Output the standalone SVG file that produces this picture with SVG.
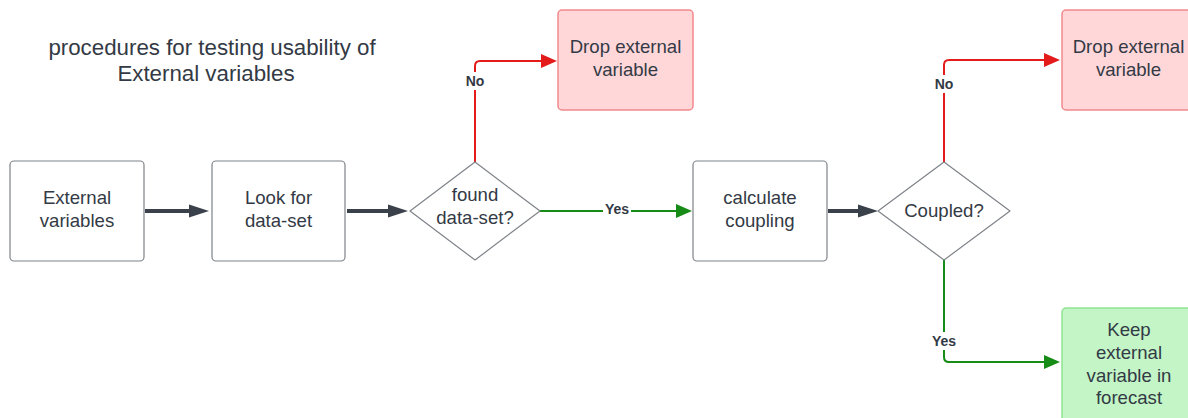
<svg xmlns="http://www.w3.org/2000/svg" width="1188" height="418" viewBox="0 0 1188 418">
<defs>
<style>
.t{font-family:"Liberation Sans",Arial,sans-serif;fill:#333a45;text-anchor:middle}
.n{font-size:18.6px}
.l{font-size:14px;font-weight:bold}
.box{fill:#ffffff;stroke:#7f8389;stroke-width:1.2}
.red{fill:#ffd7d9;stroke:#f2898c;stroke-width:1.5}
.grn{fill:#c3f5c7;stroke:#8ee592;stroke-width:1.5}
.dk{fill:none;stroke:#3b414b;stroke-width:4}
.rl{fill:none;stroke:#e31b1b;stroke-width:2}
.gl{fill:none;stroke:#168b16;stroke-width:2}
</style>
<marker id="ad" markerWidth="20" markerHeight="16" refX="0" refY="0" markerUnits="userSpaceOnUse" orient="auto" style="overflow:visible"><path d="M-1,-6.5 L19,0 L-1,6.5 Z" fill="#3b414b"/></marker>
<marker id="ar" markerWidth="16" markerHeight="16" refX="0" refY="0" markerUnits="userSpaceOnUse" orient="auto" style="overflow:visible"><path d="M-2,-7 L14,0 L-2,7 Z" fill="#e31b1b"/></marker>
<marker id="ag" markerWidth="16" markerHeight="16" refX="0" refY="0" markerUnits="userSpaceOnUse" orient="auto" style="overflow:visible"><path d="M-2,-7 L14,0 L-2,7 Z" fill="#168b16"/></marker>
</defs>
<rect width="1188" height="418" fill="#ffffff"/>
<g id="title">
<text class="t" x="212" y="55" style="font-size:22.3px">procedures for testing usability of</text>
<text class="t" x="206" y="81" style="font-size:22.3px">External variables</text>
</g>
<g id="connectors">
<path class="dk" d="M145,211 H190" marker-end="url(#ad)"/>
<path class="dk" d="M347,211 H389" marker-end="url(#ad)"/>
<path class="dk" d="M828,211 H859" marker-end="url(#ad)"/>
<path class="rl" d="M475,162 V66 Q475,61 480,61 H543" marker-end="url(#ar)"/>
<path class="gl" d="M540,211 H678" marker-end="url(#ag)"/>
<path class="rl" d="M944,162 V65 Q944,60 949,60 H1046" marker-end="url(#ar)"/>
<path class="gl" d="M944,260 V357 Q944,362 949,362 H1046" marker-end="url(#ag)"/>
<rect x="462" y="72" width="26" height="18" fill="#ffffff"/>
<text class="t l" x="475" y="86">No</text>
<rect x="603" y="203" width="28" height="14" fill="#ffffff"/>
<text class="t l" x="617" y="214">Yes</text>
<rect x="931" y="75" width="26" height="18" fill="#ffffff"/>
<text class="t l" x="944" y="89">No</text>
<rect x="928" y="332" width="32" height="18" fill="#ffffff"/>
<text class="t l" x="944" y="346">Yes</text>
</g>
<g id="n1"><rect class="box" x="10" y="161" width="134" height="100" rx="4"/>
<text class="t n" x="77" y="204">External</text><text class="t n" x="77" y="227">variables</text></g>
<g id="n2"><rect class="box" x="212" y="161" width="133" height="100" rx="4"/>
<text class="t n" x="278.5" y="204">Look for</text><text class="t n" x="278.5" y="227">data-set</text></g>
<g id="d1"><path class="box" d="M475,162 L540,211 L475,260 L410,211 Z" stroke-linejoin="round"/>
<text class="t n" x="475" y="201">found</text><text class="t n" x="475" y="224">data-set?</text></g>
<g id="drop1"><rect class="red" x="558" y="10" width="135" height="100" rx="4"/>
<text class="t n" x="625.5" y="53">Drop external</text><text class="t n" x="625.5" y="76">variable</text></g>
<g id="n3"><rect class="box" x="693" y="161" width="134" height="100" rx="4"/>
<text class="t n" x="760" y="204">calculate</text><text class="t n" x="760" y="227">coupling</text></g>
<g id="d2"><path class="box" d="M944,162 L1010,211 L944,260 L878,211 Z" stroke-linejoin="round"/>
<text class="t n" x="944" y="217">Coupled?</text></g>
<g id="drop2"><rect class="red" x="1062" y="10" width="135" height="100" rx="4"/>
<text class="t n" x="1128.5" y="53">Drop external</text><text class="t n" x="1128.5" y="76">variable</text></g>
<g id="keep"><rect class="grn" x="1062" y="308" width="135" height="115" rx="4"/>
<text class="t n" x="1129" y="336">Keep</text><text class="t n" x="1129" y="359">external</text><text class="t n" x="1129" y="382">variable in</text><text class="t n" x="1129" y="404">forecast</text></g>
</svg>
